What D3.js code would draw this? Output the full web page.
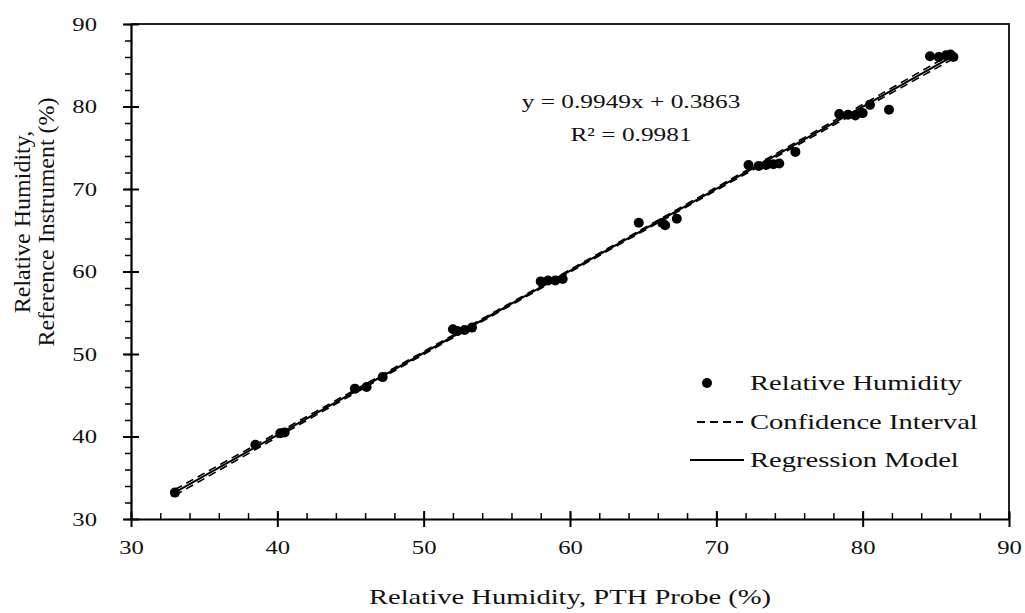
<!DOCTYPE html>
<html>
<head>
<meta charset="utf-8">
<script src="https://cdn.jsdelivr.net/npm/d3@7"></script>
<style>
  html, body { margin: 0; padding: 0; background: #fff; }
  svg { display: block; }
  text { font-family: "Liberation Serif", "Times New Roman", serif; fill: #111; }
</style>
</head>
<body>
<svg id="chart" width="1025" height="613"></svg>
<script>
// ---- data ----
const xProbe = [33.0, 38.5, 40.2, 40.5, 45.3, 46.1, 47.2,
  52.0, 52.3, 52.8, 53.3, 58.0, 58.5, 59.0, 59.5,
  64.7, 66.3, 66.5, 67.3, 72.2, 72.9, 73.4, 73.9, 74.3, 75.4,
  78.4, 79.0, 79.5, 80.0, 80.5, 81.8, 84.6, 85.2, 85.7, 86.0, 86.2];
const yRef = [33.2, 39.0, 40.4, 40.5, 45.8, 46.0, 47.2,
  53.0, 52.8, 52.9, 53.2, 58.8, 58.9, 58.9, 59.1,
  65.9, 65.9, 65.6, 66.4, 72.9, 72.8, 72.9, 73.0, 73.1, 74.5,
  79.1, 79.0, 78.9, 79.2, 80.2, 79.6, 86.1, 86.0, 86.2, 86.3, 86.0];
const slope = 0.9949;
const intercept = 0.3863;
const ciX = [33.0, 46.0, 59.6, 73.0, 86.2];
const ciUpper = [33.57, 46.35, 59.83, 73.21, 86.50];
const ciLower = [32.87, 45.95, 59.53, 72.81, 85.80];
const xTicks = [30, 40, 50, 60, 70, 80, 90];
const yTicks = [30, 40, 50, 60, 70, 80, 90];
const xMinorTicks = d3.range(30, 90.1, 2);
const yMinorTicks = d3.range(30, 90.1, 2);
const legendLabels = ["Relative Humidity", "Confidence Interval", "Regression Model"];
const eqLines = ["y = 0.9949x + 0.3863", "R\u00B2 = 0.9981"];
const xTitle = "Relative Humidity, PTH Probe (%)";
const yTitle = ["Relative Humidity,", "Reference Instrument (%)"];

// ---- layout ----
const SX = 1.3; // horizontal stretch of the glyphs
const svg = d3.select("#chart");
const L = 131, R = 1009, T = 24, B = 519;
const x = d3.scaleLinear().domain([30, 90]).range([L, R]);
const y = d3.scaleLinear().domain([30, 90]).range([B, T]);

function stretch(sel) {
  sel.each(function () {
    const t = d3.select(this);
    const tx = +t.attr("x") || 0, ty = +t.attr("y") || 0;
    t.attr("x", 0).attr("y", 0).attr("transform", `translate(${tx},${ty}) scale(${SX},1)`);
  });
}

svg.append("rect").attr("width", 1025).attr("height", 613).attr("fill", "#fff");

// frame top/right
svg.append("path")
  .attr("d", `M${L},${T}H${R}V${B}`)
  .attr("fill", "none").attr("stroke", "#222").attr("stroke-width", 2);

// minor ticks
svg.append("g").attr("transform", `translate(0,${B})`)
  .call(d3.axisBottom(x).tickValues(xMinorTicks).tickSizeInner(-6).tickSizeOuter(0).tickFormat(""))
  .call(g => g.select(".domain").remove())
  .call(g => g.selectAll("line").attr("stroke", "#000").attr("stroke-width", 1.5));
svg.append("g").attr("transform", `translate(${L},0)`)
  .call(d3.axisLeft(y).tickValues(yMinorTicks).tickSizeInner(6).tickSizeOuter(0).tickFormat(""))
  .call(g => g.select(".domain").remove())
  .call(g => g.selectAll("line").attr("stroke", "#000").attr("stroke-width", 1.5));

// major x axis
const gx = svg.append("g").attr("transform", `translate(0,${B})`)
  .call(d3.axisBottom(x).tickValues(xTicks).tickSizeInner(8).tickSizeOuter(0).tickPadding(21));
gx.select(".domain").attr("stroke", "#000").attr("stroke-width", 2.2);
gx.selectAll(".tick line").attr("y1", -8).attr("stroke", "#000").attr("stroke-width", 2);
gx.selectAll(".tick text").attr("font-size", 19).attr("font-family", "Liberation Serif")
  .attr("fill", "#111").attr("dy", null).attr("dominant-baseline", "central");
stretch(gx.selectAll(".tick text"));

// major y axis
const gy = svg.append("g").attr("transform", `translate(${L},0)`)
  .call(d3.axisLeft(y).tickValues(yTicks).tickSizeInner(8).tickSizeOuter(0).tickPadding(26));
gy.select(".domain").attr("stroke", "#000").attr("stroke-width", 2.2);
gy.selectAll(".tick line").attr("x1", 8).attr("stroke", "#000").attr("stroke-width", 2);
gy.selectAll(".tick text").attr("font-size", 19).attr("font-family", "Liberation Serif")
  .attr("fill", "#111").attr("dy", null).attr("dominant-baseline", "central");
stretch(gy.selectAll(".tick text"));

// confidence interval
const ciLine = arr => d3.line().x((d, i) => x(ciX[i])).y(d => y(d)).curve(d3.curveNatural)(arr);
[ciUpper, ciLower].forEach(arr => {
  svg.append("path").attr("d", ciLine(arr))
    .attr("fill", "none").attr("stroke", "#000").attr("stroke-width", 1.6)
    .attr("stroke-dasharray", "8,5");
});

// regression line
const ext = d3.extent(xProbe);
svg.append("line")
  .attr("x1", x(ext[0])).attr("y1", y(slope * ext[0] + intercept))
  .attr("x2", x(ext[1])).attr("y2", y(slope * ext[1] + intercept))
  .attr("stroke", "#000").attr("stroke-width", 2);

// points
svg.append("g").selectAll("circle").data(xProbe).join("circle")
  .attr("cx", d => x(d)).attr("cy", (d, i) => y(yRef[i])).attr("r", 5)
  .attr("fill", "#000");

// equation
const eq = svg.append("g").selectAll("text").data(eqLines).join("text")
  .attr("x", 631).attr("y", (d, i) => 102 + i * 33)
  .attr("text-anchor", "middle").attr("dominant-baseline", "central")
  .attr("font-size", 19.5).text(d => d);
stretch(eq);

// legend
const lg = svg.append("g");
const rowY = [383, 422, 460];
lg.append("circle").attr("cx", 707).attr("cy", rowY[0]).attr("r", 5).attr("fill", "#000");
lg.append("line").attr("x1", 697).attr("x2", 743).attr("y1", rowY[1]).attr("y2", rowY[1])
  .attr("stroke", "#000").attr("stroke-width", 1.8).attr("stroke-dasharray", "8,5");
lg.append("line").attr("x1", 690).attr("x2", 744).attr("y1", rowY[2]).attr("y2", rowY[2])
  .attr("stroke", "#000").attr("stroke-width", 1.8);
const lt = lg.selectAll("text").data(legendLabels).join("text")
  .attr("x", 750).attr("y", (d, i) => rowY[i])
  .attr("dominant-baseline", "central").attr("font-size", 22).text(d => d);
stretch(lt);

// axis titles
const xt = svg.append("text").attr("x", (L + R) / 2).attr("y", 597)
  .attr("text-anchor", "middle").attr("dominant-baseline", "central")
  .attr("font-size", 22).text(xTitle);
stretch(xt);
svg.append("g").attr("transform", "translate(34,222) rotate(-90)")
  .selectAll("text").data(yTitle).join("text")
  .attr("x", 0).attr("y", (d, i) => (i === 0 ? -12 : 12))
  .attr("text-anchor", "middle").attr("dominant-baseline", "central")
  .attr("font-size", 24).text(d => d);
</script>
</body>
</html>
